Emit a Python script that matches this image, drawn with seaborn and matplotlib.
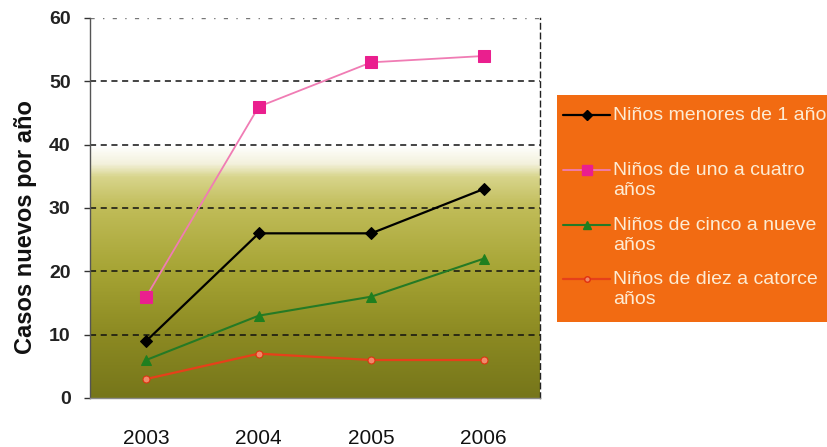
import numpy as np
import pandas as pd
import matplotlib
matplotlib.use("Agg")
import matplotlib.pyplot as plt
from matplotlib.colors import LinearSegmentedColormap
from matplotlib.patches import Rectangle
from matplotlib.lines import Line2D
import seaborn as sns

years = [2003, 2004, 2005, 2006]
menores_1 = [9, 26, 26, 33]
uno_a_cuatro = [16, 46, 53, 54]
cinco_a_nueve = [6, 13, 16, 22]
diez_a_catorce = [3, 7, 6, 6]

series_names = [
    "Niños menores de 1 año",
    "Niños de uno a cuatro\naños",
    "Niños de cinco a nueve\naños",
    "Niños de diez a catorce\naños",
]
series_values = [menores_1, uno_a_cuatro, cinco_a_nueve, diez_a_catorce]
y_ticks = [0, 10, 20, 30, 40, 50, 60]

df = pd.DataFrame(
    [(y, v, n) for n, vals in zip(series_names, series_values) for y, v in zip(years, vals)],
    columns=["Año", "Casos", "Grupo"],
)

sns.set_theme(style="white")
plt.rcParams["font.family"] = ["Liberation Sans", "DejaVu Sans"]

W, H = 828, 447
fig = plt.figure(figsize=(W / 100, H / 100), dpi=100)
ax = fig.add_axes([90 / W, 1 - 398 / H, 450 / W, 380 / H])

# olive backdrop fading to white toward the top
stops = [(0.0, "#76761a"), (10 / 60, "#8c8a22"), (20 / 60, "#a6a434"),
         (30 / 60, "#c0bc58"), (35 / 60, "#d8d58c"), (37 / 60, "#f3f1dc"),
         (40 / 60, "#ffffff"), (1.0, "#ffffff")]
cmap = LinearSegmentedColormap.from_list("fondo", stops)
grad = np.linspace(0, 1, 600).reshape(-1, 1)
ax.imshow(grad, cmap=cmap, origin="lower", aspect="auto",
          extent=(2002.5, 2006.5, 0, 60), zorder=0)

styles = {
    series_names[0]: dict(color="#000000", marker="D", markersize=6,
                          markerfacecolor="#000000", markeredgecolor="#000000", linewidth=1.6),
    series_names[1]: dict(color="#f07cb4", marker="s", markersize=8,
                          markerfacecolor="#ea1f8e", markeredgecolor="#ea1f8e", linewidth=1.3),
    series_names[2]: dict(color="#257a25", marker="^", markersize=7,
                          markerfacecolor="#1f7f1f", markeredgecolor="#1f7f1f", linewidth=1.5),
    series_names[3]: dict(color="#e6401a", marker="o", markersize=5,
                          markerfacecolor="#f08a6a", markeredgecolor="#e03010", linewidth=1.6),
}
for name in series_names:
    sub = df[df["Grupo"] == name]
    sns.lineplot(data=sub, x="Año", y="Casos", ax=ax, zorder=3, legend=False,
                 **styles[name])

ax.set_xlim(2002.5, 2006.5)
ax.set_ylim(0, 60)
ax.set_xticks(years)
ax.set_xticklabels([str(y) for y in years], fontsize=15, color="#111111")
ax.tick_params(axis="x", length=0, pad=22)
ax.set_yticks(y_ticks)
ax.set_yticklabels([str(t) for t in y_ticks], fontsize=14, fontweight="bold", color="#222222")
ax.tick_params(axis="y", length=4, width=1, color="#333333", left=True, pad=10)

for t in y_ticks[1:-1]:
    ax.axhline(t, color="#111111", lw=1.1, ls=(0, (4, 3)), zorder=2)
ax.axhline(60, color="#777777", lw=1.0, ls=(0, (3, 6, 1, 6)), zorder=2)

ax.spines["top"].set_visible(False)
ax.spines["right"].set_linestyle((0, (4, 3)))
ax.spines["right"].set_color("#222222")
ax.spines["right"].set_linewidth(1.0)
ax.spines["left"].set_color("#555555")
ax.spines["left"].set_linewidth(1.0)
ax.spines["bottom"].set_color("#8a8a8a")
ax.spines["bottom"].set_linewidth(1.0)

ax.set_xlabel("")
ax.set_ylabel("Casos nuevos por año", fontsize=17, fontweight="bold", color="#111111")
ax.yaxis.set_label_coords(-0.118, 0.45)

# legend panel: orange box running off the right edge, one slot per series
def fx(px):
    return px / W

def fy(py):
    return 1 - py / H

fig.patches.append(Rectangle((fx(557), fy(322)), fx(W + 10) - fx(557), fy(95) - fy(322),
                             transform=fig.transFigure, facecolor="#f26b12",
                             edgecolor="none", zorder=1))
slot_y = [115, 170, 225, 279]
for name, y in zip(series_names, slot_y):
    st = styles[name]
    fig.lines.append(Line2D([fx(563), fx(610)], [fy(y), fy(y)], transform=fig.transFigure,
                            color=st["color"], linewidth=st["linewidth"], zorder=2))
    fig.lines.append(Line2D([fx(587)], [fy(y)], transform=fig.transFigure,
                            linestyle="none", marker=st["marker"],
                            markersize=st["markersize"] - 1,
                            markerfacecolor=st["markerfacecolor"],
                            markeredgecolor=st["markeredgecolor"], zorder=3))
    fig.text(fx(613), fy(y - 8), name, fontsize=14, color="#fdebd3", ha="left", va="top",
             linespacing=1.2, zorder=3, transform=fig.transFigure)

fig.savefig("out.png", dpi=100, facecolor="white")
